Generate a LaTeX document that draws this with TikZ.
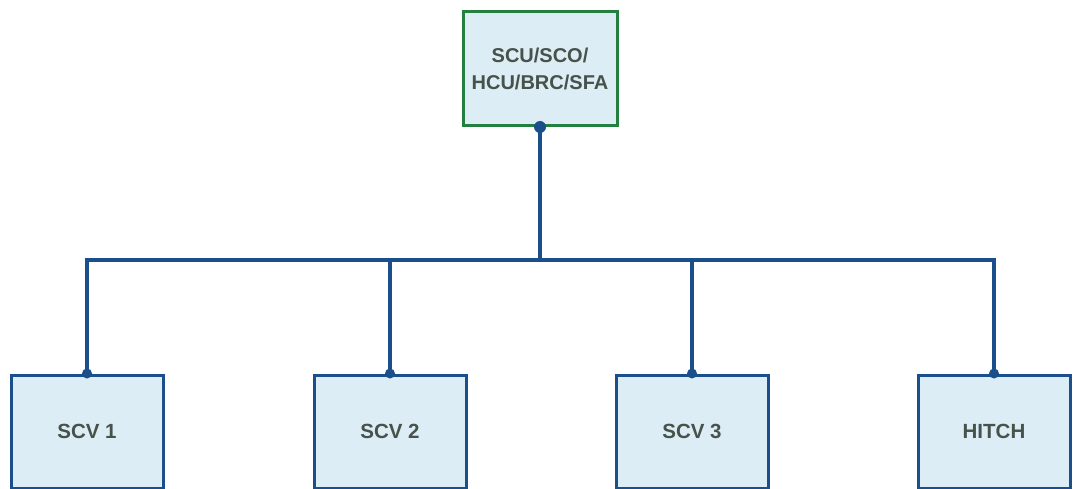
\documentclass[tikz,border=0pt]{standalone}
\usepackage{fontspec}
\setmainfont{Liberation Sans}
\definecolor{linkblue}{HTML}{1B4F8C}
\definecolor{boxfill}{HTML}{DCEDF6}
\definecolor{topgreen}{HTML}{23803F}
\definecolor{txtgray}{HTML}{46524A}
\begin{document}
\begin{tikzpicture}[x=1pt,y=1pt,
  unitbox/.style={draw=linkblue,line width=3pt,fill=boxfill,minimum width=152pt,minimum height=113pt,inner sep=0pt,
    font=\fontsize{20.5}{24}\selectfont\bfseries,text=txtgray},
  topbox/.style={draw=topgreen,line width=3pt,fill=boxfill,minimum width=154pt,minimum height=114pt,inner sep=0pt,
    font=\fontsize{20}{27}\selectfont\bfseries,text=txtgray,align=center},
  link/.style={draw=linkblue,line width=3.2pt},
  joint/.style={fill=linkblue}]
\useasboundingbox[fill=white] (0,0) rectangle (1076,488);
\node[topbox] (top) at (540,419.5) {SCU/SCO/\\HCU/BRC/SFA};
\node[unitbox] (b1) at (87,56.5) {SCV 1};
\node[unitbox] (b2) at (390,56.5) {SCV 2};
\node[unitbox] (b3) at (692,56.5) {SCV 3};
\node[unitbox] (b4) at (994,56.5) {HITCH};
\coordinate (bus) at (540,228);
\draw[link] (top.south) -- (bus);
\draw[link,line join=miter] (b1.north) -- (b1.north |- bus) -- (b4.north |- bus) -- (b4.north);
\draw[link] (b2.north) -- (b2.north |- bus);
\draw[link] (b3.north) -- (b3.north |- bus);
\fill[joint] (top.south) circle (6pt);
\foreach \n in {b1,b2,b3,b4}
  \fill[joint] (\n.north) circle (5pt);
\end{tikzpicture}
\end{document}
